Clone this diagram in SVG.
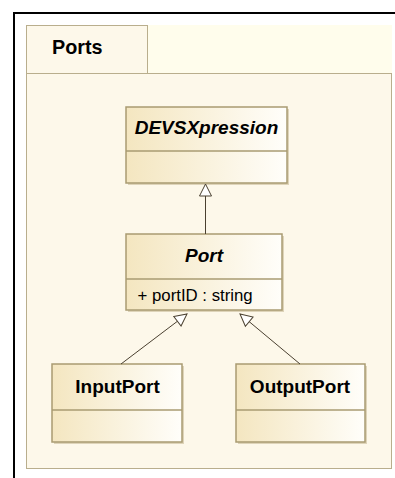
<svg xmlns="http://www.w3.org/2000/svg" width="395" height="478" viewBox="0 0 395 478">
<defs>
<linearGradient id="cls" x1="0" y1="0" x2="1" y2="0">
<stop offset="0" stop-color="#f4e6c0"/>
<stop offset="1" stop-color="#fffefa"/>
</linearGradient>
<marker id="tri" viewBox="0 0 14 14" refX="13" refY="7" markerWidth="14" markerHeight="14" markerUnits="userSpaceOnUse" orient="auto">
<path d="M1,1 L13,7 L1,13 Z" fill="#ffffff" stroke="#4a4030" stroke-width="1"/>
</marker>
</defs>
<style>
.shadow{fill:#c9bc98;opacity:0.6}
.box{fill:url(#cls);stroke:#a99b72;stroke-width:1.5}
.div{stroke:#a99b72;stroke-width:1.5}
.t{font-family:"Liberation Sans",Arial,sans-serif;fill:#000}
.b{font-weight:bold;font-size:19px}
.bi{font-weight:bold;font-style:italic;font-size:19px}
.n{font-size:16.8px}
.conn{stroke:#4a4030;stroke-width:1;fill:none}
</style>
<rect width="395" height="478" fill="#ffffff"/>
<rect x="14" y="13" width="400" height="480" fill="none" stroke="#000" stroke-width="2"/>
<g id="Ports">
<rect x="147" y="25" width="245" height="48" fill="#fffdec"/>
<rect x="26.5" y="25.5" width="121" height="48" fill="#fdf8ea" stroke="#b9ae8d" stroke-width="1"/>
<rect x="26.5" y="73.5" width="365" height="395" fill="#fdf8ea" stroke="#b9ae8d" stroke-width="1"/>
<text class="t" x="52" y="54" font-size="19.8" font-weight="bold">Ports</text>
</g>
<g id="DEVSXpression">
<rect class="shadow" x="128" y="109" width="161" height="76"/>
<rect class="box" x="126" y="107" width="161" height="76"/>
<line class="div" x1="126" y1="151" x2="287" y2="151"/>
<text class="t bi" x="206.5" y="134" text-anchor="middle">DEVSXpression</text>
</g>
<g id="Port">
<rect class="shadow" x="128" y="236" width="156" height="76"/>
<rect class="box" x="126" y="234" width="156" height="76"/>
<line class="div" x1="126" y1="279" x2="282" y2="279"/>
<text class="t bi" x="204" y="262" text-anchor="middle">Port</text>
<text class="t n" x="137.5" y="301">+ portID : string</text>
</g>
<g id="InputPort">
<rect class="shadow" x="54" y="366" width="130" height="78"/>
<rect class="box" x="52" y="364" width="130" height="78"/>
<line class="div" x1="52" y1="410" x2="182" y2="410"/>
<text class="t b" x="117.5" y="393" text-anchor="middle">InputPort</text>
</g>
<g id="OutputPort">
<rect class="shadow" x="238" y="366" width="129" height="78"/>
<rect class="box" x="236" y="364" width="129" height="78"/>
<line class="div" x1="236" y1="410" x2="365" y2="410"/>
<text class="t b" x="300" y="393" text-anchor="middle">OutputPort</text>
</g>
<g id="connectors">
<line class="conn" x1="205.5" y1="234" x2="205.5" y2="184" marker-end="url(#tri)"/>
<line class="conn" x1="121" y1="364" x2="187" y2="314" marker-end="url(#tri)"/>
<line class="conn" x1="300" y1="364" x2="240" y2="314" marker-end="url(#tri)"/>
</g>
</svg>
